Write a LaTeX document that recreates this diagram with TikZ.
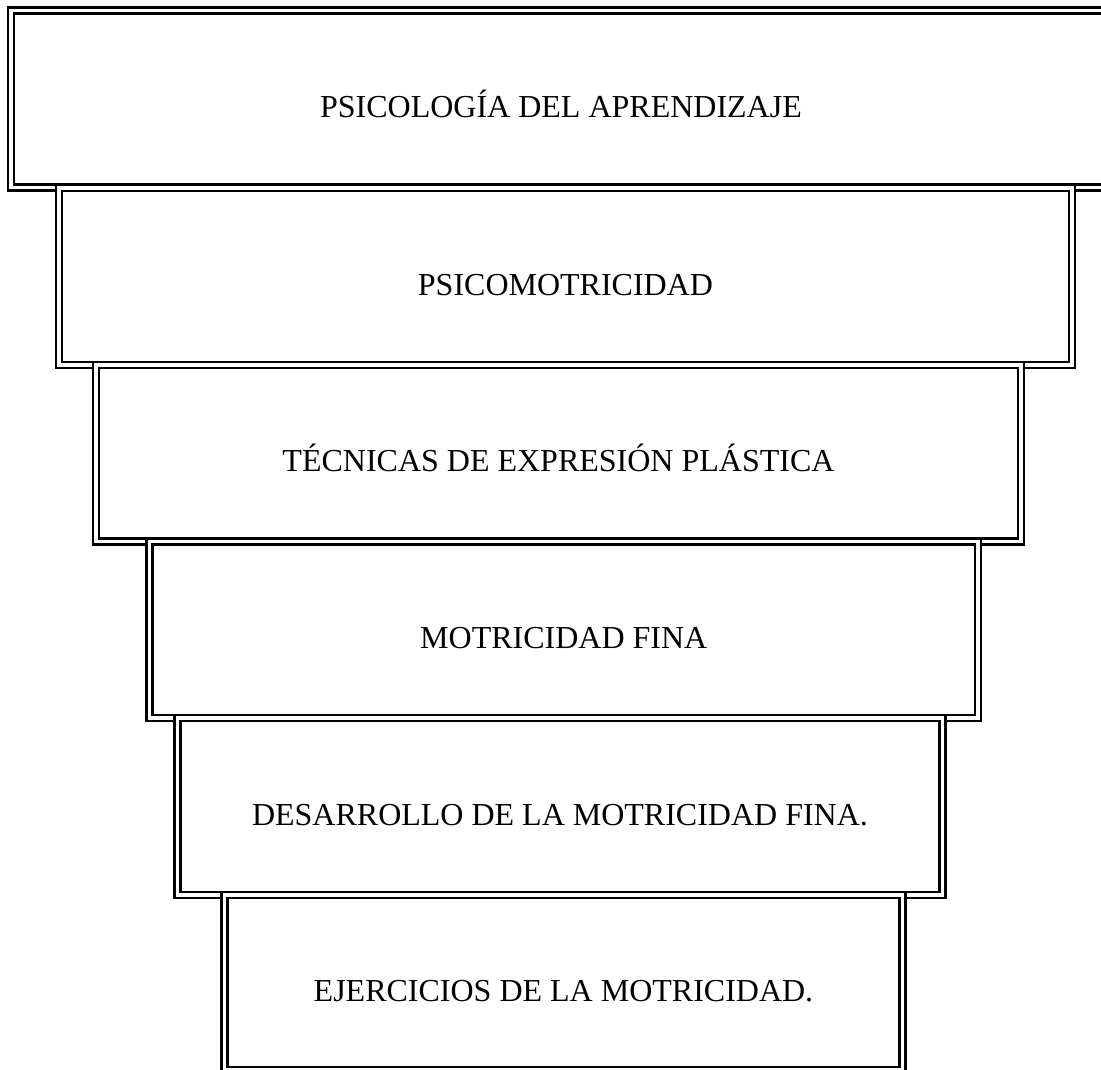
\documentclass[tikz,border=0pt]{standalone}
\usepackage{fontspec}
\setmainfont{Liberation Serif}
\begin{document}
\begin{tikzpicture}[x=1pt, y=-1pt, tier/.style = {draw, double, double distance=3.6pt, line width=2.4pt, rectangle, inner sep=0pt, outer sep=0pt, text height=37pt, text depth=0pt, font=\fontsize{32}{38}\selectfont}]
		\useasboundingbox (0,0) rectangle (1101,1070);
		\clip (0,0) rectangle (1101,1070);
		\node[tier, minimum width=1100pt, minimum height=177pt] (1) at (561,99) {PSICOLOGÍA DEL APRENDIZAJE};
		\node[tier, minimum width=1013pt, minimum height=177pt] (2) at (565.5,276.5) {PSICOMOTRICIDAD};
		\node[tier, minimum width=925pt, minimum height=176.5pt] (3) at (558.5,453.25) {TÉCNICAS DE EXPRESIÓN PLÁSTICA};
		\node[tier, minimum width=828.5pt, minimum height=176.5pt] (4) at (563.75,629.75) {MOTRICIDAD FINA};
		\node[tier, minimum width=765pt, minimum height=177pt] (5) at (560,806.5) {DESARROLLO DE LA MOTRICIDAD FINA.};
		\node[tier, minimum width=678pt, minimum height=175pt] (6) at (563.5,982.5) {EJERCICIOS DE LA MOTRICIDAD.};
	\end{tikzpicture}
\end{document}
